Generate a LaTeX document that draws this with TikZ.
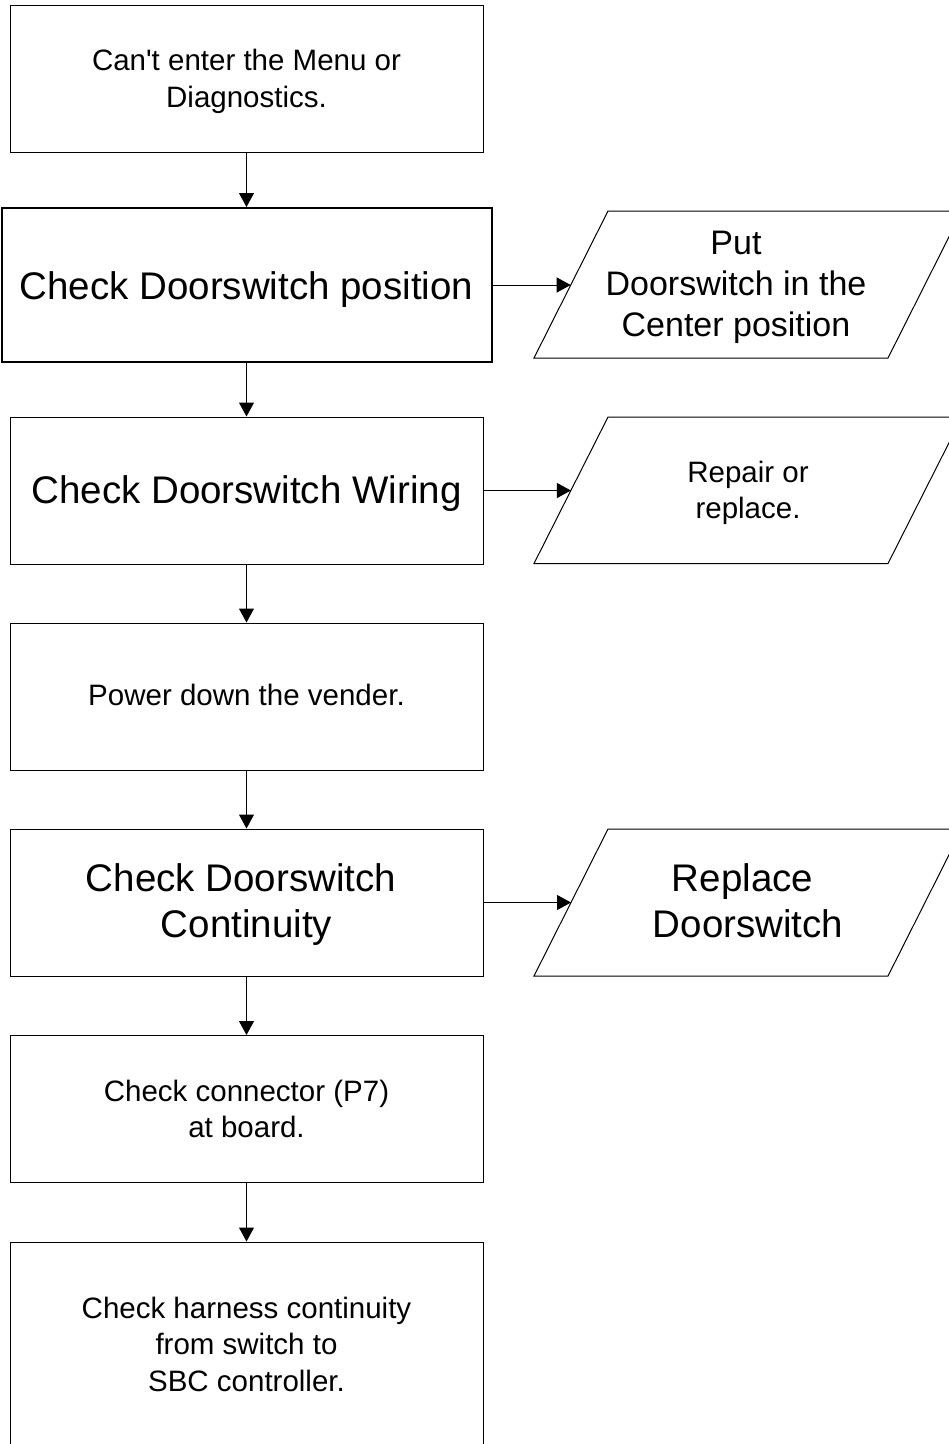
\documentclass[tikz,border=0pt]{standalone}
\usepackage{fontspec}
\setmainfont{Liberation Sans}[Ligatures=TeXOff]
\usetikzlibrary{arrows.meta}
\begin{document}
\begin{tikzpicture}[x=1pt,y=-1pt,
  box/.style={draw=black,line width=1pt,rectangle,minimum width=473pt,minimum height=147pt,inner sep=0pt,align=center},
  small/.style={font=\fontsize{29.5}{36.5}\selectfont},
  big/.style={font=\fontsize{38.5}{46}\selectfont},
  mid/.style={font=\fontsize{34}{41}\selectfont},
  para/.style={draw=black,line width=1pt,line join=miter},
  arr/.style={line width=1pt,-{Triangle[length=14pt,width=15pt]}},
  lbl/.style={inner sep=0pt,align=center}]
\useasboundingbox (0,0) rectangle (949,1444);
\clip (0,0) rectangle (949,1444);

% main column
\node[box,draw=none,small] (b1t) at (246.5,81.5) {Can't enter the Menu or\\Diagnostics.};
\node[box,small] (b1) at (246.5,78.5) {};
\node[box,big,line width=2pt,minimum width=490pt,minimum height=154pt] (b2) at (246.5,285) {};
\node[lbl,big] (b2t) at (246.5,289.5) {Check Doorswitch position};
\node[box,big] (b3) at (246.5,490.5) {};
\node[lbl,big] (b3t) at (246.5,493.5) {Check Doorswitch Wiring};
\node[box,small] (b4) at (246.5,696.5) {};
\node[lbl,small] (b4t) at (246.5,694.5) {Power down the vender.};
\node[box,big] (b5) at (246.5,902.5) {};
\node[lbl,big] (b5t) at (246.5,904.5) {Check Doorswitch\hspace*{0.28em}\\Continuity};
\node[box,small] (b6) at (246.5,1109) {Check connector (P7)\\at board.};
\node[box,small,minimum height=204pt] (b7) at (246.5,1344) {Check harness continuity\\from switch to\\SBC controller.};

% parallelograms
\draw[para] (534,358) -- (608,211) -- (962,211) -- (888,358) -- cycle;
\coordinate (p1in) at (570.7,285);
\node[lbl,mid] (p1) at (736,287.5) {Put\\Doorswitch in the\hspace*{0.28em}\\Center position};

\draw[para] (534,563.5) -- (608,417) -- (962,417) -- (888,563.5) -- cycle;
\coordinate (p2in) at (570.9,490.5);
\node[lbl,small] (p2) at (748,493) {Repair or\\replace.};

\draw[para] (534,976) -- (608,829) -- (962,829) -- (888,976) -- cycle;
\coordinate (p3in) at (571,902.5);
\node[lbl,big] (p3) at (748,901) {Replace\hspace*{0.28em}\\Doorswitch};

% connectors
\draw[arr] (b1) -- (b2);
\draw[arr] (b2) -- (b3);
\draw[arr] (b3) -- (b4);
\draw[arr] (b4) -- (b5);
\draw[arr] (b5) -- (b6);
\draw[arr] (b6) -- (b7);
\draw[arr] (b2.east) -- (p1in);
\draw[arr] (b3.east) -- (p2in);
\draw[arr] (b5.east) -- (p3in);
\end{tikzpicture}
\end{document}
